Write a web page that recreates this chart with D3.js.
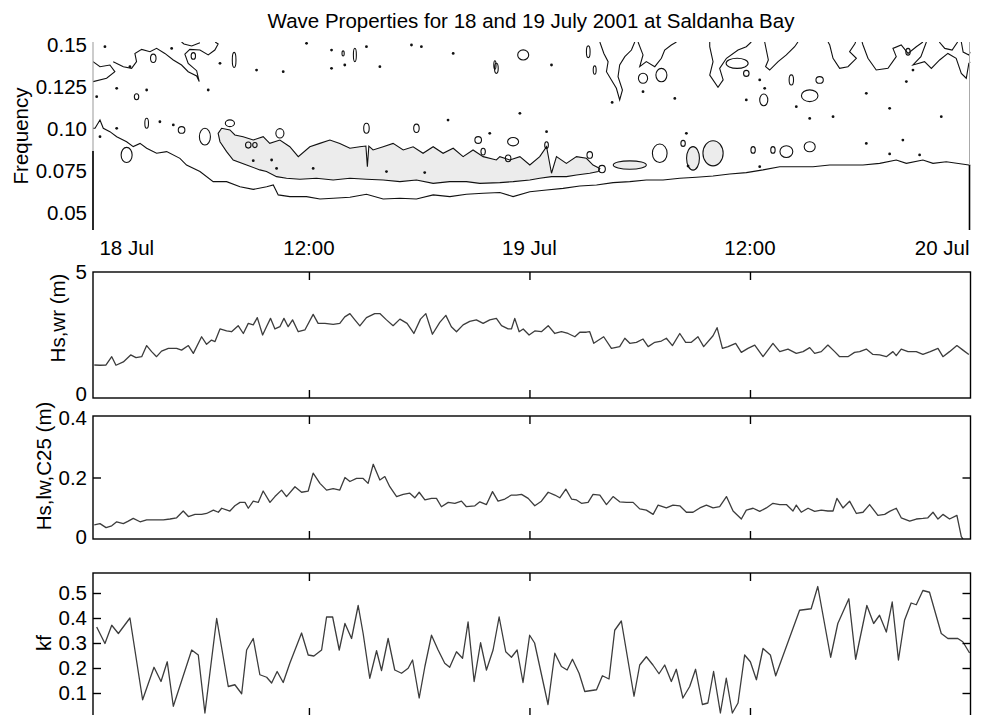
<!DOCTYPE html>
<html>
<head>
<meta charset="utf-8">
<script src="https://cdn.jsdelivr.net/npm/d3@7"></script>
<style>
  body { margin: 0; background: #fff; }
  svg { display: block; }
</style>
</head>
<body>
<div id="chart"></div>
<script>
// time is in hours after 18 Jul 2001 00:00
const timeTicks = [0, 12, 24, 36, 48];
const timeTickNames = ["18 Jul", "12:00", "19 Jul", "12:00", "20 Jul"];
const freqTicks = [0.05, 0.075, 0.10, 0.125, 0.15];
const freqTickNames = ["0.05", "0.075", "0.10", "0.125", "0.15"];

// spectrum contours, [hour, frequency]
const outerContour = [[0.25,0.1006],[0.36,0.1006],[0.63,0.1055],[0.81,0.1006],[1.17,0.0986],[1.54,0.0956],[2.08,0.0926],[2.44,0.0897],[2.81,0.0916],[3.17,0.0887],[3.71,0.0857],[4.26,0.0867],[4.98,0.0827],[5.34,0.0787],[6.07,0.0748],[6.79,0.0688],[7.52,0.0688],[8.25,0.0658],[8.97,0.0642],[9.70,0.0658],[10.06,0.0668],[10.33,0.0609],[10.96,0.0599],[11.87,0.0599],[12.60,0.0585],[13.32,0.0589],[14.23,0.0595],[15.13,0.0613],[16.04,0.0585],[16.95,0.0589],[17.85,0.0585],[18.76,0.0609],[19.67,0.0599],[20.57,0.0613],[21.48,0.0619],[22.39,0.0623],[23.11,0.0599],[24.02,0.0628],[24.93,0.0638],[25.83,0.0648],[26.74,0.0662],[27.65,0.0668],[28.55,0.0682],[29.46,0.0688],[30.36,0.0698],[31.27,0.0698],[32.18,0.0708],[33.08,0.0714],[33.99,0.0722],[34.90,0.0734],[35.80,0.0742],[36.71,0.0758],[37.62,0.0777],[38.52,0.0777],[39.43,0.0777],[40.34,0.0787],[41.24,0.0787],[42.15,0.0787],[43.06,0.0797],[43.96,0.0817],[44.51,0.0797],[45.41,0.0817],[45.96,0.0797],[46.68,0.0807],[47.91,0.0787],[48,0.0787]];

const bandContour = [[7.06,0.0976],[7.25,0.1006],[7.70,0.0996],[7.97,0.0966],[8.42,0.0956],[8.97,0.0936],[9.51,0.0956],[9.87,0.0916],[10.42,0.0936],[10.96,0.0896],[11.42,0.0837],[12.05,0.0896],[12.59,0.0916],[13.14,0.0936],[13.68,0.0916],[14.23,0.0887],[14.77,0.0896],[15.10,0.0900],[15.18,0.0777],[15.26,0.0900],[15.49,0.0877],[16.04,0.0896],[16.58,0.0916],[17.13,0.0877],[17.67,0.0896],[18.21,0.0857],[18.76,0.0896],[19.30,0.0857],[19.85,0.0887],[20.39,0.0837],[20.93,0.0877],[21.48,0.0837],[22.20,0.0817],[22.39,0.0837],[22.93,0.0817],[23.48,0.0837],[24.02,0.0787],[24.56,0.0837],[24.93,0.0896],[25.20,0.0738],[25.47,0.0837],[26.01,0.0797],[26.56,0.0837],[27.10,0.0827],[27.46,0.0787],[27.83,0.0767],[27.74,0.0748],[27.28,0.0738],[26.56,0.0728],[26.01,0.0718],[25.20,0.0718],[24.56,0.0708],[24.02,0.0698],[23.11,0.0688],[22.39,0.0682],[21.30,0.0678],[20.57,0.0688],[19.66,0.0688],[18.76,0.0678],[17.85,0.0698],[16.95,0.0688],[16.04,0.0698],[15.13,0.0702],[14.23,0.0708],[13.32,0.0698],[12.41,0.0708],[11.51,0.0702],[10.78,0.0708],[10.24,0.0718],[9.69,0.0748],[9.33,0.0758],[8.61,0.0787],[7.88,0.0817],[7.52,0.0867],[7.16,0.0926]];

const upperContours = [
  [[0.25,0.1403],[0.63,0.1373],[1.17,0.1383],[1.44,0.1343],[0.99,0.1304],[0.25,0.1284]],
  [[1.35,0.1403],[1.90,0.1373],[2.35,0.1363],[2.62,0.1403],[2.53,0.1452],[2.90,0.1476],[3.35,0.1462],[3.71,0.1482],[4.16,0.1452],[4.62,0.1413],[5.07,0.1383],[5.43,0.1343],[5.89,0.1318],[6.03,0.1284],[5.89,0.1349],[5.43,0.1393],[5.25,0.1448],[5.52,0.1476],[6.07,0.1472],[6.52,0.1443],[6.88,0.1472],[7.06,0.1508],[6.90,0.152]],
  [[5.07,0.152],[5.20,0.1508],[5.62,0.1496],[6.07,0.1516]],
  [[27.83,0.152],[28.05,0.1452],[28.28,0.1403],[28.19,0.1343],[28.46,0.1294],[28.73,0.1244],[28.91,0.1175],[29.06,0.1234],[28.82,0.1313],[28.91,0.1383],[29.19,0.1433],[29.55,0.1472],[29.73,0.152]],
  [[29.91,0.152],[30.18,0.1443],[30.00,0.1373],[30.36,0.1403],[30.82,0.1373],[31.18,0.1423],[31.36,0.1472],[31.72,0.1502],[32.00,0.152]],
  [[33.81,0.152],[33.81,0.1492],[33.99,0.1403],[33.81,0.1323],[34.26,0.1250],[34.54,0.1294],[34.35,0.1363],[34.72,0.1423],[35.35,0.1472],[35.80,0.1492],[36.07,0.152]],
  [[36.80,0.152],[37.00,0.1413],[36.85,0.1373],[37.07,0.1353],[37.53,0.1403],[37.98,0.1443],[38.43,0.1492],[38.61,0.152]],
  [[40.25,0.152],[40.34,0.1502],[40.52,0.1423],[40.88,0.1363],[41.33,0.1373],[41.79,0.1423],[41.42,0.1462],[41.70,0.1508],[41.75,0.152]],
  [[42.10,0.152],[42.15,0.1502],[42.42,0.1423],[42.87,0.1353],[43.51,0.1363],[43.96,0.1433],[43.78,0.1482],[44.23,0.1502],[44.60,0.1452],[45.05,0.1492],[45.41,0.152]],
  [[45.60,0.152],[45.30,0.1433],[44.87,0.1383],[45.50,0.1403],[45.87,0.1363],[46.32,0.1413],[46.77,0.1452],[47.22,0.1423],[47.50,0.1333],[47.77,0.1304],[47.91,0.1393],[48,0.140]],
  [[46.30,0.152],[46.60,0.1482],[47.00,0.1472],[47.30,0.152]],
  [[47.50,0.152],[47.60,0.1460],[47.91,0.1443],[48,0.1460]]
];

// small closed contours: [hour, frequency, half width (h), half height, level]
const contourLoops = [
  [7.93,0.1413,0.10,0.0045,1],[5.71,0.1437,0.12,0.0020,1],[3.53,0.1423,0.15,0.0025,1],[2.62,0.1194,0.12,0.0018,1],
  [3.17,0.1036,0.10,0.0030,1],[5.07,0.0996,0.18,0.0020,1],[6.34,0.0956,0.30,0.0050,1],[7.70,0.1036,0.25,0.0020,1],
  [8.70,0.0906,0.15,0.0018,1],[9.06,0.0906,0.12,0.0015,1],[10.42,0.0976,0.22,0.0028,1],[15.13,0.1006,0.15,0.0030,1],
  [17.85,0.1006,0.15,0.0025,1],[21.21,0.0936,0.18,0.0020,1],[2.08,0.0847,0.30,0.0045,1],[14.50,0.1443,0.08,0.0040,1],
  [22.20,0.1363,0.10,0.0030,1],[13.86,0.1452,0.06,0.0015,1],
  [27.20,0.1462,0.10,0.0035,1],[27.55,0.1353,0.08,0.0025,1],[30.18,0.1304,0.25,0.0030,1],[31.18,0.1323,0.30,0.0040,1],
  [35.30,0.1393,0.60,0.0030,1],[35.80,0.1333,0.15,0.0018,1],[36.75,0.1175,0.22,0.0035,1],[38.25,0.1294,0.12,0.0030,1],
  [39.25,0.1200,0.45,0.0035,1],[39.79,0.1294,0.20,0.0020,1],[44.60,0.1462,0.12,0.0020,1],[22.12,0.1383,0.06,0.0025,1],
  [23.66,0.1443,0.30,0.0030,1],[24.93,0.0906,0.10,0.0020,1],[21.48,0.0867,0.12,0.0020,1],[23.11,0.0926,0.30,0.0025,1],
  [22.84,0.0827,0.15,0.0020,1],[27.28,0.0847,0.15,0.0020,1],[27.95,0.0763,0.18,0.0022,1],[29.46,0.0787,0.90,0.0025,2],
  [31.09,0.0857,0.40,0.0055,1],[32.36,0.0916,0.12,0.0018,1],[32.90,0.0827,0.35,0.0070,2],[33.99,0.0857,0.55,0.0075,2],
  [36.17,0.0877,0.12,0.0020,1],[37.25,0.0877,0.12,0.0020,1],[37.98,0.0867,0.35,0.0035,1],[39.25,0.0896,0.30,0.0030,1]
];

const contourDots = [[0.90,0.1492],[4.53,0.1482],[7.16,0.1393],[9.15,0.1353],[10.60,0.1343],[6.52,0.1234],[3.17,0.1234],[1.54,0.1244],[0.45,0.1194],[2.26,0.1373],[11.87,0.1512],[13.23,0.1472],[15.13,0.1492],[15.86,0.1373],[17.58,0.1502],[18.12,0.1492],[19.85,0.1452],[13.23,0.1363],[13.95,0.1383],[3.89,0.1045],[4.62,0.1026],[19.57,0.1055],[21.84,0.0976],[1.54,0.1006],[0.63,0.0956],[8.97,0.0813],[9.97,0.0817],[10.24,0.0767],[12.23,0.0767],[16.22,0.0748],[18.30,0.0742],[25.20,0.1383],[30.18,0.1224],[31.91,0.1184],[23.48,0.1095],[24.93,0.0986],[32.54,0.0976],[35.80,0.1175],[36.80,0.1244],[38.52,0.1135],[39.25,0.1065],[40.52,0.1075],[42.33,0.1214],[43.60,0.1125],[46.41,0.1075],[44.51,0.1284],[44.87,0.1353],[45.23,0.0847],[43.60,0.0853],[42.33,0.0916],[44.32,0.0936],[32.63,0.0781],[36.53,0.0777],[36.53,0.1294],[28.50,0.1160]];

// Hs,wr (m)
const hsWrHours = [0.32,0.63,0.96,1.27,1.50,1.90,2.30,2.59,2.90,3.17,3.44,3.71,3.98,4.35,4.80,5.07,5.44,5.71,6.16,6.43,6.70,6.89,7.16,7.52,7.79,8.15,8.43,8.70,8.97,9.19,9.48,9.69,9.91,10.15,10.42,10.64,10.87,11.11,11.42,11.78,12.23,12.50,12.87,13.32,13.68,13.95,14.23,14.50,14.77,15.13,15.58,15.86,16.22,16.58,16.95,17.34,17.71,18.07,18.36,18.72,19.12,19.45,19.75,20.03,20.39,20.75,21.11,21.48,21.84,22.20,22.48,22.84,23.02,23.20,23.44,23.66,23.98,24.29,24.65,25.02,25.38,25.74,26.10,26.47,26.74,27.10,27.28,27.50,28.04,28.46,28.91,29.19,29.46,29.82,30.18,30.46,30.82,31.18,31.45,31.78,32.18,32.50,32.81,33.17,33.48,33.99,34.21,34.50,34.81,35.22,35.53,35.89,36.26,36.71,37.25,37.62,38.07,38.52,38.89,39.25,39.52,39.88,40.24,40.61,40.88,41.33,41.69,41.97,42.33,42.69,43.06,43.42,43.78,43.96,44.23,44.60,45.05,45.41,45.81,46.23,46.50,46.86,47.26,47.59,47.91];
const hsWrValues = [1.31,1.30,1.31,1.64,1.30,1.43,1.71,1.60,1.64,2.08,1.84,1.64,1.86,1.97,1.97,1.90,2.08,1.77,2.43,2.13,2.30,2.24,2.74,2.66,2.63,2.87,2.56,2.96,2.90,3.19,2.50,2.83,3.16,2.74,2.83,3.16,2.83,3.10,2.63,2.70,3.32,2.96,2.96,2.92,2.96,3.22,3.35,3.10,2.86,3.19,3.35,3.35,3.10,2.87,3.13,2.96,2.56,3.13,3.35,2.53,3.00,3.28,2.83,2.63,2.90,3.04,3.10,2.96,3.10,3.16,2.87,2.74,2.74,3.16,2.63,2.74,2.50,2.66,2.63,2.87,2.56,2.63,2.56,2.43,2.61,2.61,2.63,2.17,2.43,1.97,2.04,2.37,2.17,2.21,2.34,2.04,2.21,2.26,2.37,2.08,2.56,2.21,2.21,2.43,2.04,2.47,2.79,1.97,2.04,2.17,1.81,1.97,2.10,1.64,2.17,1.84,1.94,1.77,1.84,2.00,1.77,1.84,2.10,1.84,1.64,1.64,1.81,1.84,1.94,1.73,1.71,1.64,1.84,1.68,1.94,1.84,1.84,1.73,1.84,1.97,1.64,1.84,2.08,1.90,1.73];

// Hs,lw,C25 (m)
const hsLwHours = [0.32,0.63,0.96,1.27,1.54,1.90,2.17,2.44,2.81,3.17,3.62,4.08,4.44,4.80,5.16,5.44,5.80,6.16,6.43,6.80,7.07,7.25,7.70,7.97,8.25,8.52,8.70,8.97,9.24,9.51,9.88,10.15,10.51,10.78,11.24,11.60,11.96,12.23,12.60,12.96,13.32,13.68,13.96,14.23,14.59,14.95,15.22,15.50,15.86,16.13,16.40,16.77,17.13,17.49,17.76,18.00,18.31,18.67,18.94,19.21,19.58,19.94,20.30,20.57,21.03,21.30,21.66,21.99,22.29,22.66,23.02,23.29,23.57,23.93,24.29,24.65,25.02,25.38,25.65,25.98,26.29,26.56,26.83,27.19,27.46,27.83,28.19,28.55,28.91,29.28,29.64,30.00,30.36,30.73,31.00,31.45,31.81,32.18,32.54,32.90,33.27,33.63,33.99,34.35,34.72,35.08,35.53,35.80,36.17,36.53,36.89,37.25,37.62,37.98,38.34,38.52,38.79,39.16,39.52,39.88,40.24,40.52,40.73,41.06,41.42,41.79,42.15,42.51,42.96,43.33,43.60,43.96,44.23,44.69,45.05,45.41,45.68,45.96,46.23,46.50,46.86,47.26,47.50,47.59];
const hsLwValues = [0.046,0.050,0.037,0.043,0.056,0.050,0.058,0.067,0.056,0.062,0.062,0.062,0.065,0.069,0.091,0.073,0.080,0.080,0.083,0.094,0.087,0.100,0.091,0.108,0.119,0.119,0.100,0.123,0.119,0.156,0.119,0.138,0.159,0.138,0.170,0.152,0.156,0.214,0.181,0.159,0.164,0.159,0.200,0.187,0.197,0.197,0.181,0.243,0.192,0.203,0.170,0.138,0.145,0.149,0.134,0.152,0.127,0.132,0.132,0.105,0.119,0.116,0.123,0.105,0.108,0.121,0.112,0.154,0.123,0.130,0.143,0.143,0.145,0.132,0.108,0.123,0.152,0.143,0.134,0.162,0.130,0.127,0.116,0.119,0.145,0.143,0.112,0.138,0.121,0.119,0.119,0.098,0.094,0.080,0.110,0.101,0.110,0.108,0.087,0.087,0.101,0.110,0.101,0.105,0.138,0.091,0.065,0.094,0.100,0.090,0.101,0.116,0.112,0.112,0.091,0.110,0.087,0.100,0.090,0.094,0.091,0.091,0.132,0.101,0.123,0.083,0.087,0.112,0.077,0.080,0.090,0.100,0.069,0.058,0.065,0.067,0.069,0.087,0.065,0.080,0.065,0.077,0.008,0.000];

// kf
const kfHours = [0.45,0.90,1.27,1.63,2.26,2.95,3.57,3.95,4.29,4.62,5.62,5.98,6.34,6.98,7.61,7.97,8.34,8.61,8.97,9.33,9.70,9.97,10.27,10.60,10.96,11.60,11.96,12.27,12.69,12.96,13.29,13.65,13.96,14.32,14.68,14.95,15.31,15.68,15.95,16.31,16.67,17.04,17.40,17.64,18.00,18.31,18.67,19.03,19.39,19.66,20.03,20.36,20.66,20.99,21.34,21.66,22.02,22.35,22.71,23.02,23.33,23.65,24.01,24.28,25.01,25.38,25.74,26.05,26.34,26.70,27.01,27.65,27.97,28.33,28.64,29.00,29.69,30.00,30.36,30.72,31.05,31.36,31.72,31.99,32.35,32.72,33.04,33.41,33.71,34.02,34.39,34.71,35.04,35.35,35.71,36.02,36.35,36.71,37.11,37.40,38.70,39.33,39.69,40.39,40.78,41.38,41.75,42.36,42.73,43.05,43.42,43.74,44.08,44.41,44.77,45.05,45.41,45.77,46.41,46.77,47.31,47.58,47.95];
const kfValues = [0.364,0.298,0.371,0.338,0.400,0.073,0.203,0.146,0.225,0.047,0.272,0.252,0.020,0.398,0.126,0.133,0.097,0.272,0.318,0.173,0.163,0.140,0.186,0.142,0.219,0.340,0.252,0.248,0.272,0.404,0.404,0.272,0.378,0.318,0.450,0.338,0.159,0.269,0.190,0.318,0.192,0.179,0.199,0.232,0.080,0.206,0.331,0.272,0.219,0.203,0.265,0.239,0.384,0.146,0.301,0.192,0.272,0.404,0.265,0.243,0.272,0.142,0.331,0.300,0.054,0.259,0.206,0.192,0.235,0.179,0.106,0.113,0.169,0.156,0.351,0.388,0.087,0.212,0.245,0.212,0.177,0.212,0.146,0.195,0.080,0.126,0.195,0.054,0.060,0.186,0.020,0.159,0.020,0.060,0.252,0.225,0.153,0.278,0.252,0.169,0.431,0.437,0.526,0.243,0.378,0.477,0.235,0.450,0.378,0.411,0.344,0.464,0.232,0.391,0.460,0.453,0.510,0.503,0.338,0.318,0.318,0.305,0.260];

const width = 981, height = 715;
const left = 93, right = 970.5;
const font = "'Liberation Sans', Arial, Helvetica, sans-serif";
const fontSize = 20.5;
const lineColor = "#3c3c3c";

const svg = d3.select("#chart").append("svg")
    .attr("width", width)
    .attr("height", height)
    .attr("font-family", font);

const x = d3.scaleLinear().domain([0.25, 48]).range([left, right]);

svg.append("text")
    .attr("x", 531).attr("y", 28)
    .attr("text-anchor", "middle")
    .attr("font-size", fontSize)
    .text("Wave Properties for 18 and 19 July 2001 at Saldanha Bay");

function yLabel(txt, cx, cy) {
  svg.append("text")
      .attr("transform", `translate(${cx},${cy}) rotate(-90)`)
      .attr("text-anchor", "middle")
      .attr("dy", "0.35em")
      .attr("font-size", fontSize)
      .text(txt);
}

function styleAxis(g) {
  g.attr("font-family", font).attr("font-size", fontSize);
  g.selectAll("path.domain").remove();
  g.selectAll("line").attr("stroke", "#000").attr("stroke-width", 1.4);
  g.selectAll("text").attr("fill", "#000");
}

// ---- top panel: contoured spectrum ----
const topY = d3.scaleLinear().domain([0.04, 0.152]).range([230, 42]);

svg.append("clipPath").attr("id", "clipTop")
  .append("rect").attr("x", left).attr("y", 42).attr("width", right - left).attr("height", 188);

const cont = svg.append("g").attr("clip-path", "url(#clipTop)");
const cline = d3.line().x(d => x(d[0])).y(d => topY(d[1]));

cont.append("path")
    .attr("d", cline(bandContour) + "Z")
    .attr("fill", "#ececec")
    .attr("stroke", "#111")
    .attr("stroke-width", 1.1);

cont.selectAll("ellipse")
  .data(contourLoops)
  .join("ellipse")
    .attr("cx", d => x(d[0]))
    .attr("cy", d => topY(d[1]))
    .attr("rx", d => x(d[0] + d[2]) - x(d[0]))
    .attr("ry", d => topY(d[1] - d[3]) - topY(d[1]))
    .attr("fill", d => d[4] === 2 ? "#ececec" : "none")
    .attr("stroke", "#111")
    .attr("stroke-width", 1.1);

cont.append("path")
    .attr("d", cline(outerContour))
    .attr("fill", "none")
    .attr("stroke", "#111")
    .attr("stroke-width", 1.1);

cont.selectAll("path.up")
  .data(upperContours)
  .join("path")
    .attr("class", "up")
    .attr("d", cline)
    .attr("fill", "none")
    .attr("stroke", "#111")
    .attr("stroke-width", 1.1);

cont.selectAll("circle")
  .data(contourDots)
  .join("circle")
    .attr("cx", d => x(d[0]))
    .attr("cy", d => topY(d[1]))
    .attr("r", 1.4)
    .attr("fill", "#111");

// frame edges of the contour plot
svg.append("line").attr("x1", left).attr("x2", left).attr("y1", 42).attr("y2", 230)
    .attr("stroke", "#999").attr("stroke-width", 1);
svg.append("line").attr("x1", left).attr("x2", left).attr("y1", topY(0.087)).attr("y2", 230)
    .attr("stroke", "#000").attr("stroke-width", 1.6);
svg.append("line").attr("x1", right - 1).attr("x2", right - 1).attr("y1", 42).attr("y2", 230)
    .attr("stroke", "#aaa").attr("stroke-width", 1);
svg.append("line").attr("x1", right - 1).attr("x2", right - 1).attr("y1", topY(0.0787)).attr("y2", 230)
    .attr("stroke", "#000").attr("stroke-width", 1.6);

svg.append("g")
    .attr("transform", `translate(${left},0)`)
    .call(d3.axisLeft(topY).tickValues(freqTicks).tickSize(0).tickPadding(6)
      .tickFormat((d, i) => freqTickNames[i]))
    .call(styleAxis);

svg.append("g")
  .selectAll("text")
  .data(timeTicks)
  .join("text")
    .attr("x", (d, i) => i === 0 ? x(d) + 11 : i === timeTicks.length - 1 ? x(d) - 1 : x(d))
    .attr("y", 255)
    .attr("text-anchor", (d, i) => i === 0 ? "start" : i === timeTicks.length - 1 ? "end" : "middle")
    .attr("font-size", fontSize)
    .text((d, i) => timeTickNames[i]);

yLabel("Frequency", 21, 136);

// ---- time series panels ----
function seriesPanel(opt) {
  const { top, bottom, domain, hours, values, ticks, labels, markLeft, markRight, nudge } = opt;
  const y = d3.scaleLinear().domain(domain).range([bottom, top]);
  const id = "clip" + Math.round(top);
  svg.append("clipPath").attr("id", id)
    .append("rect").attr("x", left).attr("y", top).attr("width", right - left).attr("height", bottom - top);

  const pts = hours.map((h, i) => [h, values[i]]);
  svg.append("path")
      .attr("clip-path", `url(#${id})`)
      .attr("d", d3.line().x(d => x(d[0])).y(d => y(d[1]))(pts))
      .attr("fill", "none")
      .attr("stroke", lineColor)
      .attr("stroke-width", 1.3)
      .attr("stroke-linejoin", "round");

  const inner = timeTicks.slice(1, -1);
  svg.append("g").attr("transform", `translate(0,${bottom})`)
      .call(d3.axisBottom(x).tickValues(inner).tickSizeInner(-8).tickSizeOuter(0).tickFormat(""))
      .call(styleAxis);
  svg.append("g").attr("transform", `translate(0,${top})`)
      .call(d3.axisTop(x).tickValues(inner).tickSizeInner(-8).tickSizeOuter(0).tickFormat(""))
      .call(styleAxis);

  const la = svg.append("g").attr("transform", `translate(${left},0)`)
      .call(d3.axisLeft(y).tickValues(ticks).tickSizeInner(-8).tickPadding(6)
        .tickFormat((d, i) => labels[i]))
      .call(styleAxis);
  la.selectAll("line").attr("display", d => markLeft.includes(d) ? null : "none");
  if (nudge) la.selectAll("text").attr("dy", (d, i) => nudge[i]);

  svg.append("g").attr("transform", `translate(${right},0)`)
      .call(d3.axisRight(y).tickValues(markRight).tickSizeInner(-8).tickFormat(""))
      .call(styleAxis);

  svg.append("rect")
      .attr("x", left).attr("y", top)
      .attr("width", right - left).attr("height", bottom - top)
      .attr("fill", "none")
      .attr("stroke", "#000")
      .attr("stroke-width", 1.4);
}

seriesPanel({ top: 272, bottom: 398, domain: [0, 5], hours: hsWrHours, values: hsWrValues,
  ticks: [0, 5], labels: ["0", "5"], markLeft: [], markRight: [], nudge: ["0.1em", "0.32em"] });
yLabel("Hs,wr (m)", 58, 318);

seriesPanel({ top: 416, bottom: 539, domain: [0, 0.4], hours: hsLwHours, values: hsLwValues,
  ticks: [0, 0.2, 0.4], labels: ["0", "0.2", "0.4"], markLeft: [0.2], markRight: [0.2],
  nudge: ["0.2em", "0.32em", "0.42em"] });
yLabel("Hs,lw,C25 (m)", 44, 466);

seriesPanel({ top: 573, bottom: 716, domain: [0.008, 0.58], hours: kfHours, values: kfValues,
  ticks: [0.1, 0.2, 0.3, 0.4, 0.5], labels: ["0.1", "0.2", "0.3", "0.4", "0.5"],
  markLeft: [0.1, 0.2, 0.3, 0.4, 0.5], markRight: [0.1, 0.2, 0.3, 0.4, 0.5] });
yLabel("kf", 44, 643);
</script>
</body>
</html>
